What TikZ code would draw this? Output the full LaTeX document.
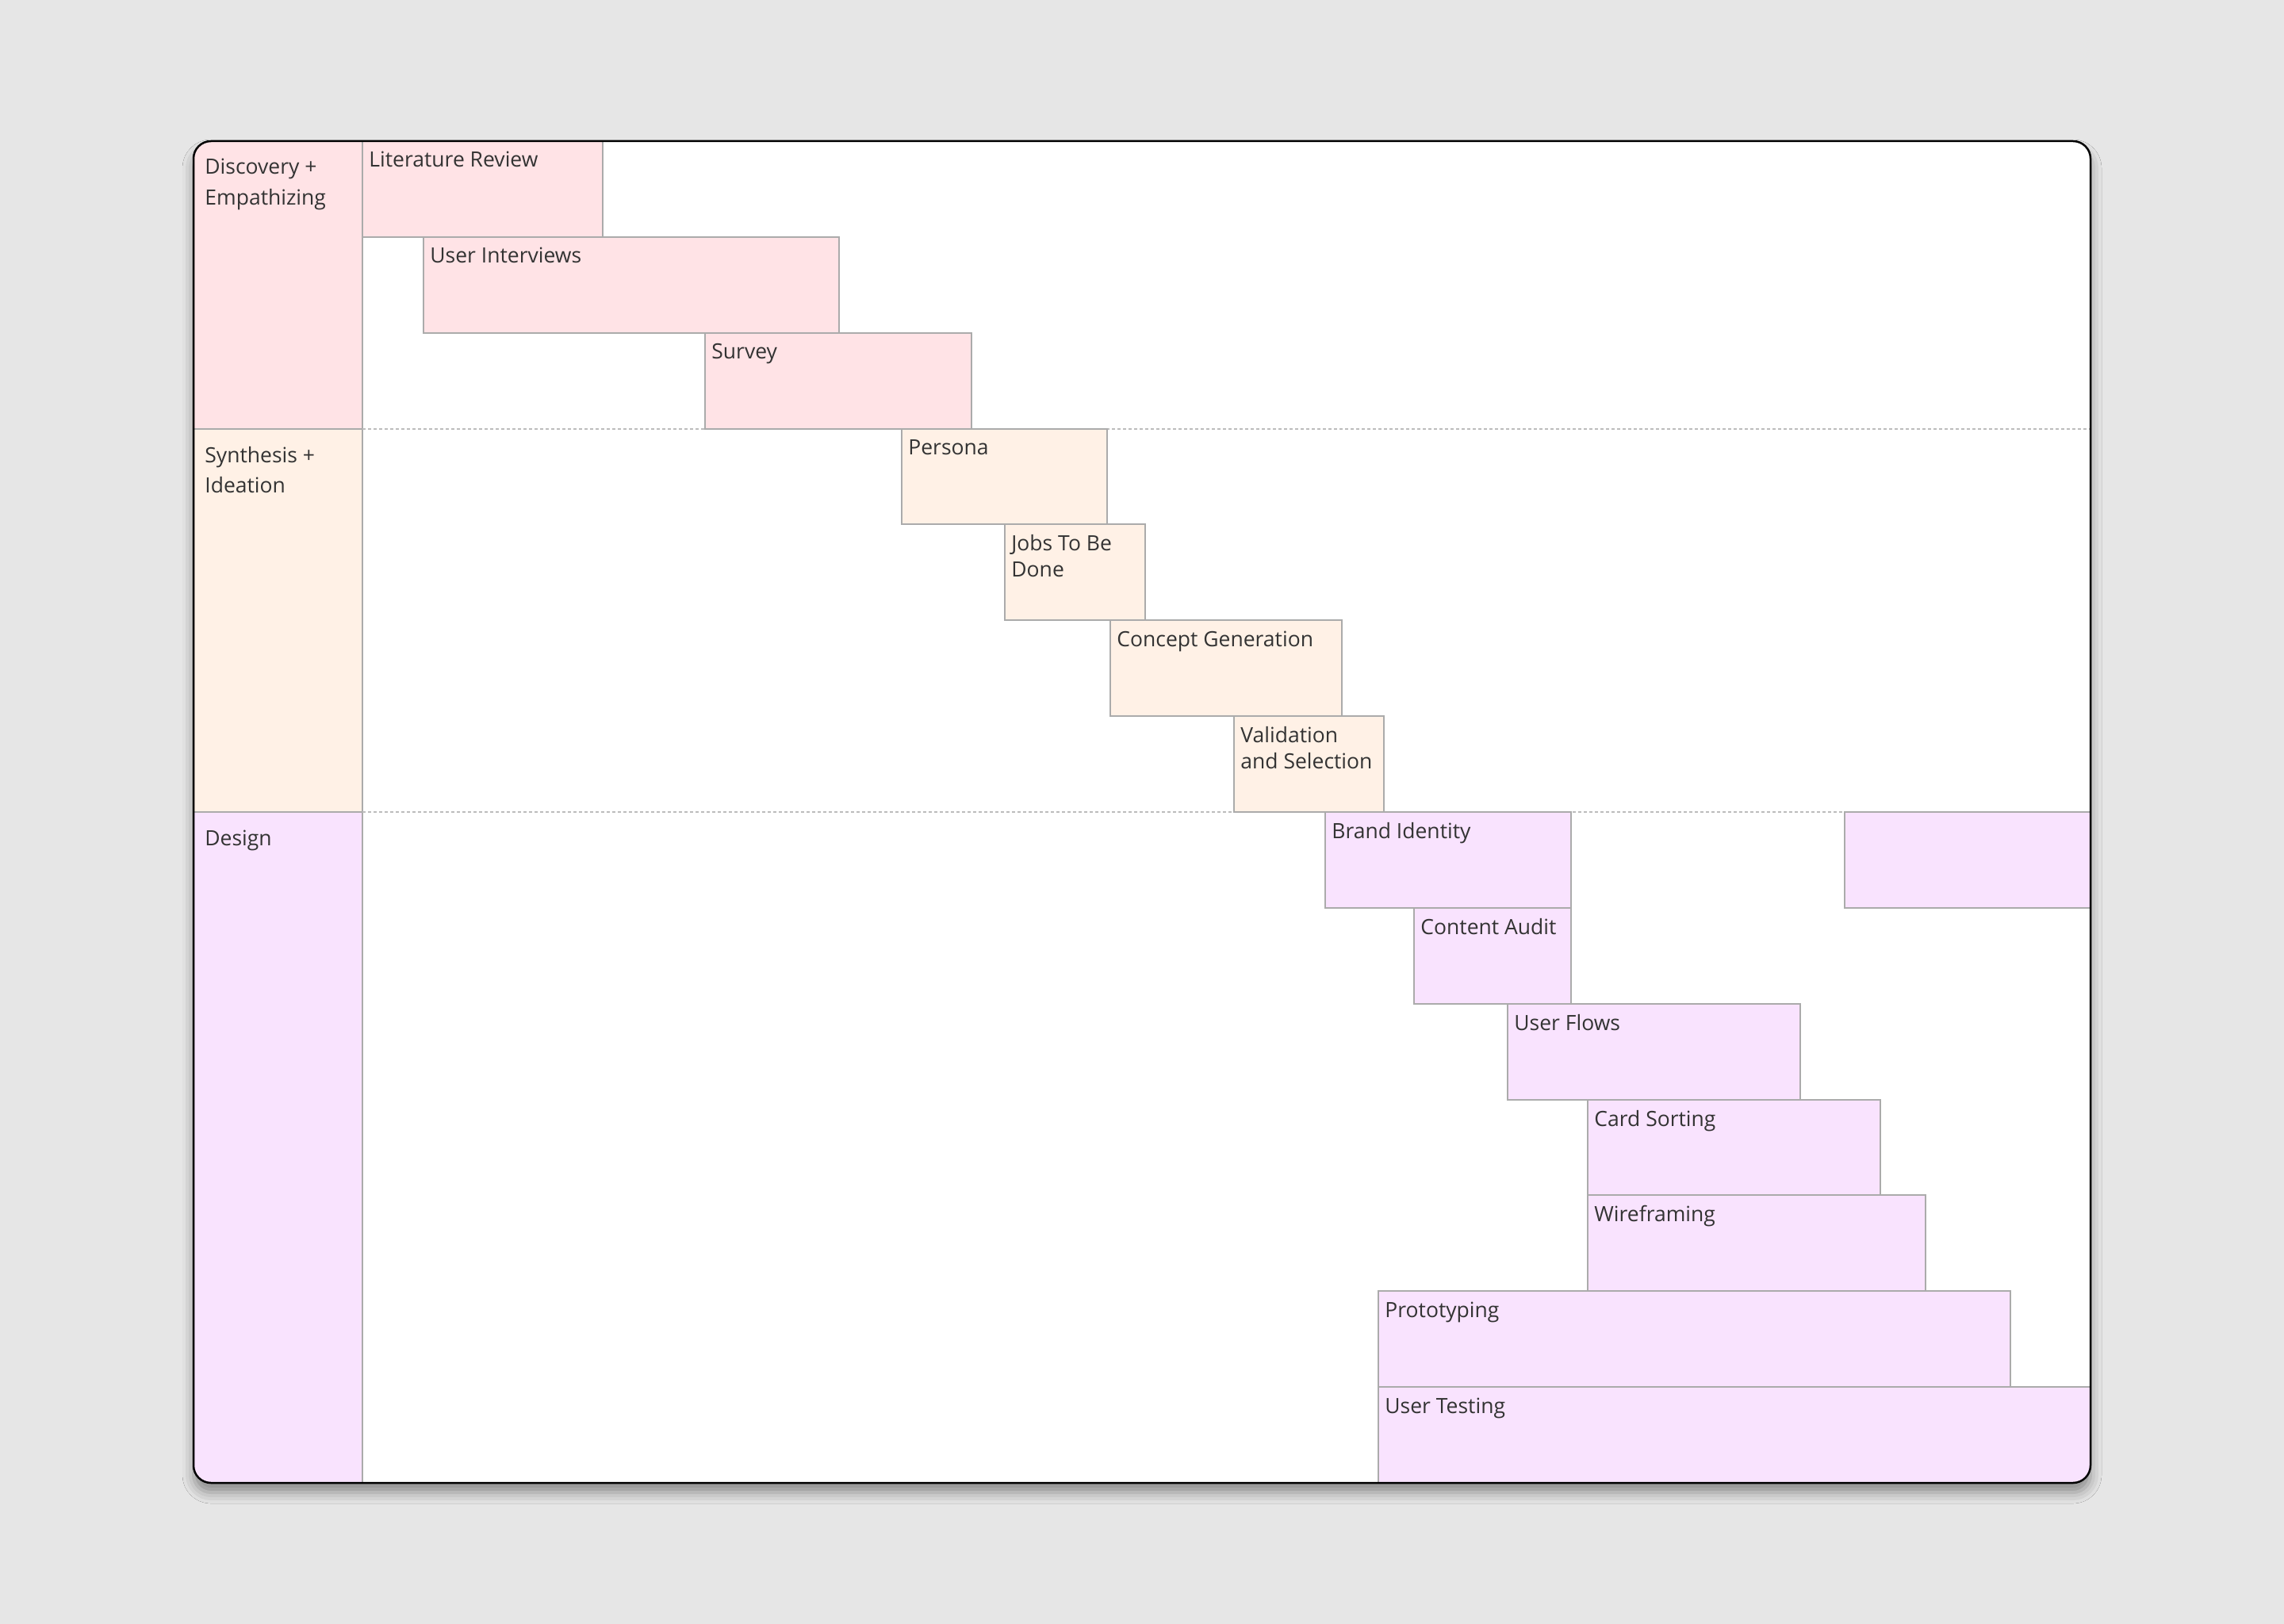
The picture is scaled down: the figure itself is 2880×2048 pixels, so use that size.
\documentclass[tikz,border=0pt]{standalone}
\usepackage{fontspec}
\setmainfont{Open Sans}
\usetikzlibrary{shadows.blur}

\definecolor{pagebg}{HTML}{E6E6E6}
\definecolor{discfill}{HTML}{FFE3E6}
\definecolor{synfill}{HTML}{FFF1E6}
\definecolor{desfill}{HTML}{F9E3FE}
\definecolor{boxline}{HTML}{ABABAB}
\definecolor{inkgray}{HTML}{333333}

\begin{document}
\begin{tikzpicture}[x=0.5pt, y=-0.5pt,
    taskbox/.style={draw=boxline, line width=0.75pt},
    tasktext/.style={anchor=base west, inner sep=0pt, text=inkgray, align=left,
      font=\fontsize{13.25}{16.5}\selectfont},
    phasetext/.style={anchor=base west, inner sep=0pt, text=inkgray, align=left,
      font=\fontsize{13.25}{19.5}\selectfont},
    divider/.style={draw=boxline!80, line width=0.75pt, dash pattern=on 2pt off 1.5pt}
  ]

  \useasboundingbox (0,0) rectangle (2880,2048);
  \fill[pagebg] (0,0) rectangle (2880,2048);

  % board
  \fill[white, rounded corners=11pt,
    blur shadow={shadow xshift=0pt, shadow yshift=-6pt, shadow blur radius=7pt, shadow opacity=40}]
    (244,178) rectangle (2636,1870);

  \begin{scope}
    \clip[rounded corners=11pt] (244,178) rectangle (2636,1870);

    % phase column (multi-line labels sit on their last baseline)
    \fill[discfill] (244,178) rectangle (457,541);
    \fill[synfill] (244,541) rectangle (457,1024);
    \fill[desfill] (244,1024) rectangle (457,1870);
    \draw[taskbox] (457,178) -- (457,1870);
    \draw[taskbox] (244,541) -- (457,541);
    \draw[taskbox] (244,1024) -- (457,1024);

    \node[phasetext] (discovery) at (258,259) {Discovery +\\Empathizing};
    \node[phasetext] (synthesis) at (258,622) {Synthesis +\\Ideation};
    \node[phasetext] (design) at (258,1066) {Design};

    \draw[divider] (457,541) -- (2636,541);
    \draw[divider] (457,1024) -- (2636,1024);

    % discovery tasks
    \draw[taskbox, fill=discfill] (457,178) rectangle (760,299);
    \node[tasktext] (litreview) at (465,211) {Literature Review};
    \draw[taskbox, fill=discfill] (534,299) rectangle (1058,420);
    \node[tasktext] (interviews) at (542,332) {User Interviews};
    \draw[taskbox, fill=discfill] (889,420) rectangle (1225,541);
    \node[tasktext] (survey) at (897,453) {Survey};

    % synthesis tasks
    \draw[taskbox, fill=synfill] (1137,541) rectangle (1396,661);
    \node[tasktext] (persona) at (1145,574) {Persona};
    \draw[taskbox, fill=synfill] (1267,661) rectangle (1444,782);
    \node[tasktext] (jobs) at (1275,727) {Jobs To Be\\Done};
    \draw[taskbox, fill=synfill] (1400,782) rectangle (1692,903);
    \node[tasktext] (concept) at (1408,815) {Concept Generation};
    \draw[taskbox, fill=synfill] (1556,903) rectangle (1745,1024);
    \node[tasktext] (validation) at (1564,969) {Validation\\and Selection};

    % design tasks
    \draw[taskbox, fill=desfill] (1671,1024) rectangle (1981,1145);
    \node[tasktext] (brand) at (1679,1057) {Brand Identity};
    \draw[taskbox, fill=desfill] (2326,1024) rectangle (2636,1145);
    \draw[taskbox, fill=desfill] (1783,1145) rectangle (1981,1266);
    \node[tasktext] (audit) at (1791,1178) {Content Audit};
    \draw[taskbox, fill=desfill] (1901,1266) rectangle (2270,1387);
    \node[tasktext] (flows) at (1909,1299) {User Flows};
    \draw[taskbox, fill=desfill] (2002,1387) rectangle (2371,1507);
    \node[tasktext] (sorting) at (2010,1420) {Card Sorting};
    \draw[taskbox, fill=desfill] (2002,1507) rectangle (2428,1628);
    \node[tasktext] (wireframing) at (2010,1540) {Wireframing};
    \draw[taskbox, fill=desfill] (1738,1628) rectangle (2535,1749);
    \node[tasktext] (prototyping) at (1746,1661) {Prototyping};
    \draw[taskbox, fill=desfill] (1738,1749) rectangle (2636,1870);
    \node[tasktext] (testing) at (1746,1782) {User Testing};
  \end{scope}

  \draw[line width=1.25pt, rounded corners=11pt] (244,178) rectangle (2636,1870);

\end{tikzpicture}
\end{document}
